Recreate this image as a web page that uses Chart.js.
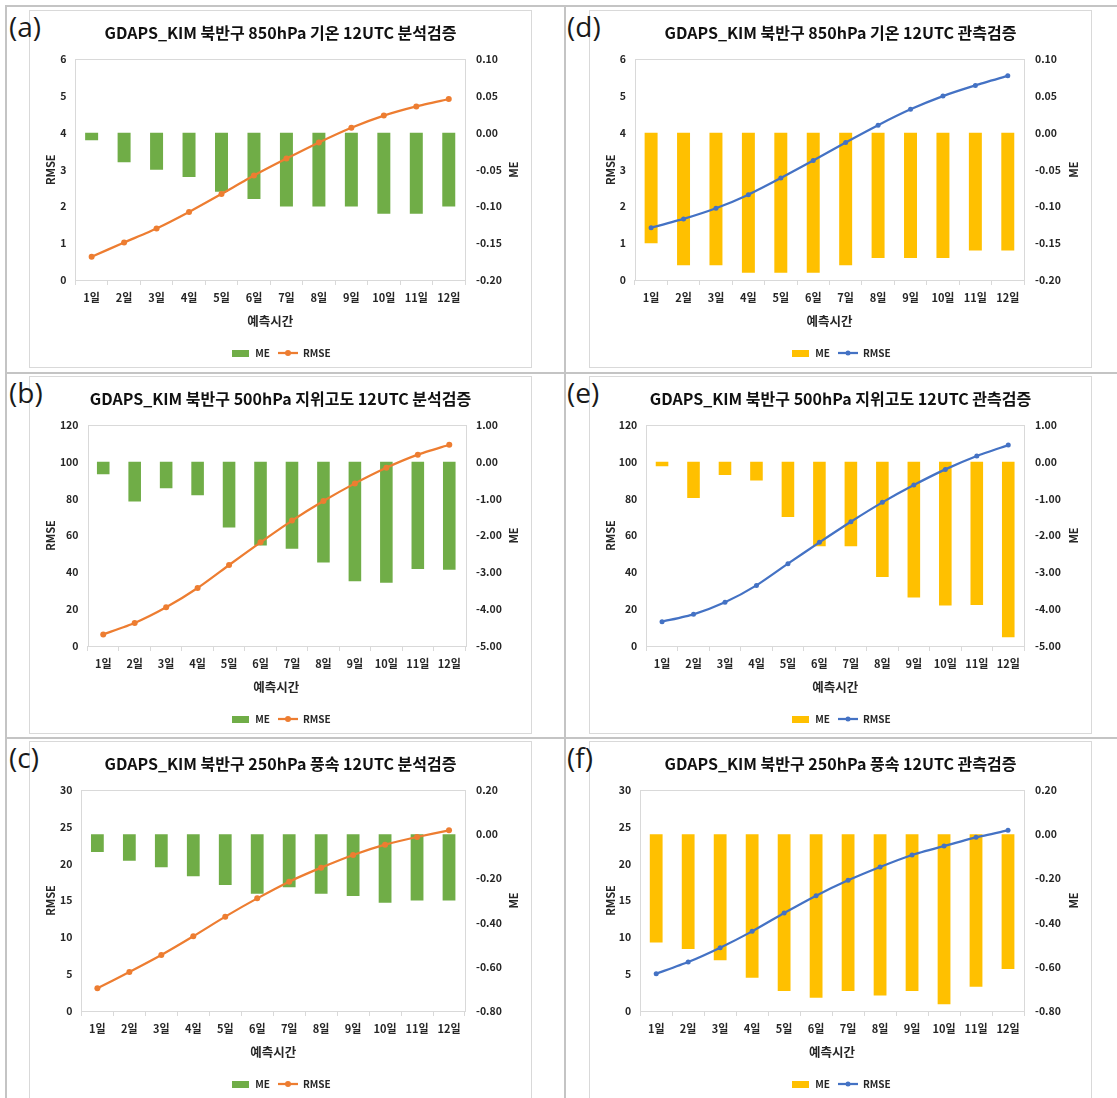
<!DOCTYPE html>
<html>
<head>
<meta charset="utf-8">
<script src="https://cdn.jsdelivr.net/npm/chart.js@4.4.1/dist/chart.umd.min.js"></script>
<style>
html,body{margin:0;padding:0;background:#fff;}
body{width:1117px;height:1098px;position:relative;overflow:hidden;font-family:"Noto Sans CJK KR",sans-serif;}
.ln{position:absolute;background:#c4c4c4;}
.box{position:absolute;border:1px solid #d9d9d9;box-sizing:border-box;}
canvas{position:absolute;}
.lbl{position:absolute;font-family:"Open Sans",sans-serif;font-size:28px;line-height:30px;color:#1a1a1a;}
</style>
</head>
<body>
<div class="ln" style="left:6px;top:5px;width:1111px;height:2px;"></div>
<div class="ln" style="left:5px;top:5px;width:2px;height:1093px;"></div>
<div class="ln" style="left:564px;top:5px;width:2px;height:1093px;"></div>
<div class="ln" style="left:6px;top:372px;width:1111px;height:2px;"></div>
<div class="ln" style="left:6px;top:737px;width:1111px;height:2px;"></div>
<script>
// ---- data ----
const categories = ['1일','2일','3일','4일','5일','6일','7일','8일','9일','10일','11일','12일'];
const seriesNames = ['ME','RMSE'];
const xTitle = '예측시간';

// (a) 850hPa 기온 분석검증
const rmseA = [0.63,1.02,1.40,1.85,2.34,2.84,3.30,3.74,4.14,4.47,4.72,4.92];
const meA   = [-0.01,-0.04,-0.05,-0.06,-0.08,-0.09,-0.10,-0.10,-0.10,-0.11,-0.11,-0.10];
// (d) 850hPa 기온 관측검증
const rmseD = [1.42,1.66,1.95,2.32,2.77,3.25,3.74,4.21,4.64,5.00,5.29,5.55];
const meD   = [-0.15,-0.18,-0.18,-0.19,-0.19,-0.19,-0.18,-0.17,-0.17,-0.17,-0.16,-0.16];
// (b) 500hPa 지위고도 분석검증
const rmseB = [6.3,12.5,21.0,31.5,44.0,56.3,68.1,78.7,88.3,96.8,103.9,109.3];
const meB   = [-0.34,-1.08,-0.72,-0.91,-1.78,-2.27,-2.36,-2.73,-3.24,-3.28,-2.91,-2.93];
// (e) 500hPa 지위고도 관측검증
const rmseE = [13.2,17.2,23.7,32.9,44.7,56.3,67.5,78.0,87.4,95.9,103.2,109.1];
const meE   = [-0.12,-0.98,-0.36,-0.51,-1.50,-2.29,-2.29,-3.13,-3.68,-3.90,-3.89,-4.76];
// (c) 250hPa 풍속 분석검증
const rmseC = [3.08,5.29,7.60,10.14,12.81,15.29,17.56,19.46,21.18,22.58,23.62,24.52];
const meC   = [-0.08,-0.12,-0.15,-0.19,-0.23,-0.27,-0.24,-0.27,-0.28,-0.31,-0.30,-0.30];
// (f) 250hPa 풍속 관측검증
const rmseF = [5.07,6.65,8.60,10.81,13.30,15.66,17.74,19.55,21.18,22.40,23.57,24.52];
const meF   = [-0.49,-0.52,-0.57,-0.65,-0.71,-0.74,-0.71,-0.73,-0.71,-0.77,-0.69,-0.61];

// axis ranges [min, max, step]
const rmseRangeT = [0, 6, 1],   meRangeT = [-0.2, 0.1, 0.05];
const rmseRangeZ = [0, 120, 20], meRangeZ = [-5, 1, 1];
const rmseRangeW = [0, 30, 5],  meRangeW = [-0.8, 0.2, 0.2];

const titles = {
  a:'GDAPS_KIM 북반구 850hPa 기온 12UTC 분석검증',
  d:'GDAPS_KIM 북반구 850hPa 기온 12UTC 관측검증',
  b:'GDAPS_KIM 북반구 500hPa 지위고도 12UTC 분석검증',
  e:'GDAPS_KIM 북반구 500hPa 지위고도 12UTC 관측검증',
  c:'GDAPS_KIM 북반구 250hPa 풍속 12UTC 분석검증',
  f:'GDAPS_KIM 북반구 250hPa 풍속 12UTC 관측검증'
};

// ---- styling / layout ----
const GREEN='#70AD47', ORANGE='#ED7D31', YELLOW='#FFC000', BLUE='#4472C4';
const FONT = '"Noto Sans CJK KR", "Noto Sans", sans-serif';
const BOX_W = 503, BOX_H = 358;
const TXT = '#262626';

const panels = [
  {id:'a', box:[29,10],  plot:[75.4,465,59.3,280], rmse:rmseA, me:meA, bar:GREEN,  line:ORANGE, rr:rmseRangeT, mr:meRangeT, pr:3},
  {id:'d', box:[589,10], plot:[634.9,1024,59.3,280], rmse:rmseD, me:meD, bar:YELLOW, line:BLUE,   rr:rmseRangeT, mr:meRangeT, pr:2.5},
  {id:'b', box:[29,376], plot:[87.5,465,425,646], rmse:rmseB, me:meB, bar:GREEN,  line:ORANGE, rr:rmseRangeZ, mr:meRangeZ, pr:3},
  {id:'e', box:[589,376],plot:[646.3,1024,425,646], rmse:rmseE, me:meE, bar:YELLOW, line:BLUE,   rr:rmseRangeZ, mr:meRangeZ, pr:2.5},
  {id:'c', box:[29,741], plot:[81.4,465,790,1011], rmse:rmseC, me:meC, bar:GREEN,  line:ORANGE, rr:rmseRangeW, mr:meRangeW, pr:3},
  {id:'f', box:[589,741],plot:[640.2,1024,790,1011], rmse:rmseF, me:meF, bar:YELLOW, line:BLUE,   rr:rmseRangeW, mr:meRangeW, pr:2.5}
];

function barIcon(color){
  const c=document.createElement('canvas'); c.width=17; c.height=7;
  const x=c.getContext('2d'); x.fillStyle=color; x.fillRect(0,0,17,7); return c;
}
function lineIcon(color, r){
  const c=document.createElement('canvas'); c.width=20; c.height=8;
  const x=c.getContext('2d'); x.strokeStyle=color; x.lineWidth=2.25;
  x.beginPath(); x.moveTo(0,4); x.lineTo(20,4); x.stroke();
  x.fillStyle=color; x.beginPath(); x.arc(10,4,r,0,Math.PI*2); x.fill(); return c;
}

const framePlugin = {
  id:'frame',
  beforeDatasetsDraw(chart){
    const {ctx, chartArea:a} = chart;
    ctx.save(); ctx.strokeStyle='#d9d9d9'; ctx.lineWidth=1;
    ctx.strokeRect(Math.round(a.left)+0.5, Math.round(a.top)+0.5, Math.round(a.right-a.left), Math.round(a.bottom-a.top));
    ctx.restore();
  }
};
// secondary axis title, rotated like the primary one (reads bottom to top)
const rightTitlePlugin = {
  id:'rtitle',
  afterDraw(chart, args, opts){
    const s = chart.scales.y1, t = chart.options.scales.y1.title;
    const ctx = chart.ctx;
    ctx.save();
    ctx.font = Chart.helpers.toFont(t.font).string;
    ctx.fillStyle = t.color;
    ctx.translate(s.right - opts.offset, (s.top + s.bottom)/2);
    ctx.rotate(-Math.PI/2);
    ctx.textAlign='center'; ctx.textBaseline='middle';
    ctx.fillText(t.text, 0, 0);
    ctx.restore();
  }
};

panels.forEach(p=>{
  const box=document.createElement('div'); box.className='box';
  box.style.left=p.box[0]+'px'; box.style.top=p.box[1]+'px';
  box.style.width=BOX_W+'px'; box.style.height=BOX_H+'px';
  document.body.appendChild(box);

  const lbl=document.createElement('div'); lbl.className='lbl';
  lbl.textContent='('+p.id+')';
  lbl.style.left=(p.box[0]<300?9:567)+'px'; lbl.style.top=(p.box[1]+1)+'px';
  document.body.appendChild(lbl);

  const cv=document.createElement('canvas');
  cv.width=BOX_W; cv.height=BOX_H;
  cv.style.left=p.box[0]+'px'; cv.style.top=p.box[1]+'px';
  cv.style.width=BOX_W+'px'; cv.style.height=BOX_H+'px';
  document.body.appendChild(cv);

  const leftW = p.plot[0]-p.box[0];
  const rightW = p.box[0]+BOX_W-p.plot[1];
  const topH = p.plot[2]-p.box[1];
  const botH = p.box[1]+BOX_H-p.plot[3];
  const tLH = 19, tTop = 23.3 - tLH/2;

  new Chart(cv, {
    type:'bar',
    data:{
      labels:categories,
      datasets:[
        {type:'bar', label:seriesNames[0], data:p.me, yAxisID:'y1', backgroundColor:p.bar,
         barPercentage:0.4, categoryPercentage:1, order:2},
        {type:'line', label:seriesNames[1], data:p.rmse, yAxisID:'y', borderColor:p.line,
         backgroundColor:p.line, borderWidth:2.25, pointRadius:p.pr, pointBorderWidth:0,
         pointBackgroundColor:p.line, tension:0.2, order:1}
      ]
    },
    options:{
      responsive:false, animation:false, devicePixelRatio:1,
      layout:{padding:0},
      plugins:{
        tooltip:{enabled:false},
        rtitle:{offset:18},
        title:{display:true, text:titles[p.id], color:'#111',
          font:{family:FONT, size:16, weight:'bold', lineHeight:tLH/16},
          padding:{top:tTop, bottom:topH - tTop - tLH}},
        legend:{position:'bottom',
          labels:{usePointStyle:true, pointStyleWidth:20, padding:8, color:TXT,
            font:{family:FONT, size:10, weight:'bold'},
            generateLabels(chart){
              return chart.data.datasets.map((ds,i)=>({
                text:ds.label, datasetIndex:i, hidden:false, lineWidth:0,
                fontColor:TXT,
                pointStyle: i===0 ? barIcon(ds.backgroundColor) : lineIcon(ds.borderColor, p.pr)
              }));
            }}}
      },
      scales:{
        x:{
          offset:true,
          grid:{offset:true, display:true, drawOnChartArea:false, drawTicks:true, tickLength:5, color:'#d9d9d9'},
          border:{display:false},
          ticks:{padding:6, color:TXT, maxRotation:0, autoSkip:false, font:{family:FONT, size:11, weight:'bold'}},
          title:{display:true, text:xTitle, color:TXT, font:{family:FONT, size:12.5, weight:'bold', lineHeight:1.2}, padding:{top:0,bottom:11}},
          afterFit(s){ s.height = botH - s.chart.legend.height; }
        },
        y:{
          position:'left', min:p.rr[0], max:p.rr[1],
          grid:{display:false, drawTicks:false}, border:{display:false},
          ticks:{stepSize:p.rr[2], padding:9, color:TXT, font:{family:FONT, size:10.5, weight:'bold'},
            callback:v=>String(Math.round(v))},
          title:{display:true, text:seriesNames[1], color:TXT, font:{family:FONT, size:11, weight:'bold', lineHeight:1.2}, padding:{top:15,bottom:0}},
          afterFit(s){ s.width = leftW; }
        },
        y1:{
          position:'right', min:p.mr[0], max:p.mr[1],
          grid:{display:false, drawTicks:false}, border:{display:false},
          ticks:{stepSize:p.mr[2], padding:11, color:TXT, font:{family:FONT, size:10.5, weight:'bold'},
            callback:v=>Number(v).toFixed(2)},
          title:{display:false, text:seriesNames[0], color:TXT, font:{family:FONT, size:11, weight:'bold', lineHeight:1.2}},
          afterFit(s){ s.width = rightW; }
        }
      }
    },
    plugins:[framePlugin, rightTitlePlugin]
  });
});
</script>
</body>
</html>
